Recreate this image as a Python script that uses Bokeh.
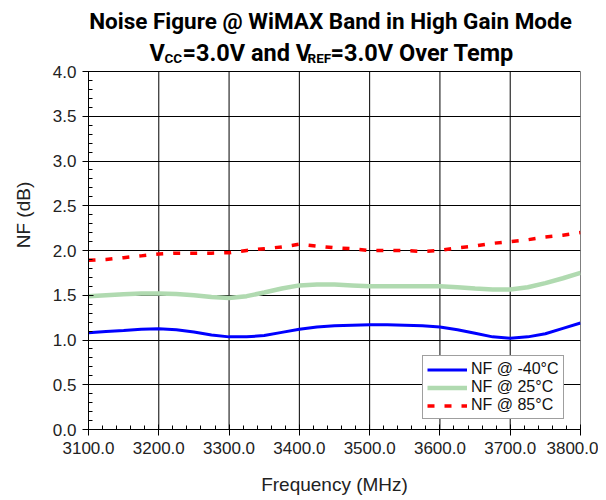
from bokeh.plotting import figure
from bokeh.models import FixedTicker, Legend, LegendItem, PrintfTickFormatter, Range1d
from bokeh.core.properties import value
from bokeh.embed import file_html
from bokeh.resources import INLINE

# ---- data ----
freq_blue = [3100, 3125, 3150, 3175, 3200, 3225, 3250, 3275, 3300, 3325, 3350, 3375, 3400, 3425,
             3450, 3475, 3500, 3525, 3550, 3575, 3600, 3625, 3650, 3675, 3700, 3725, 3750, 3775, 3800]
nf_m40 = [1.08, 1.095, 1.105, 1.12, 1.125, 1.115, 1.09, 1.055, 1.035, 1.035, 1.05, 1.085, 1.12, 1.145,
          1.16, 1.165, 1.17, 1.17, 1.165, 1.16, 1.145, 1.115, 1.075, 1.035, 1.02, 1.035, 1.07, 1.13, 1.19]

freq_green = [3100, 3125, 3150, 3175, 3200, 3225, 3250, 3275, 3300, 3325, 3350, 3375, 3400, 3425,
              3450, 3475, 3500, 3550, 3600, 3625, 3650, 3675, 3700, 3725, 3750, 3775, 3800]
nf_25 = [1.49, 1.50, 1.51, 1.52, 1.52, 1.515, 1.50, 1.48, 1.47, 1.49, 1.53, 1.575, 1.61, 1.62,
         1.62, 1.61, 1.60, 1.60, 1.60, 1.59, 1.575, 1.565, 1.565, 1.59, 1.635, 1.69, 1.75]

freq_red = [3100, 3125, 3150, 3175, 3200, 3225, 3250, 3275, 3300, 3325, 3350, 3375, 3400, 3425,
            3450, 3475, 3500, 3525, 3550, 3575, 3600, 3625, 3650, 3675, 3700, 3725, 3750, 3775, 3800]
nf_85 = [1.89, 1.90, 1.92, 1.94, 1.96, 1.97, 1.97, 1.97, 1.975, 2.00, 2.02, 2.04, 2.07, 2.05,
         2.03, 2.02, 2.00, 2.00, 2.00, 1.99, 2.00, 2.03, 2.05, 2.08, 2.10, 2.12, 2.15, 2.17, 2.20]

x_ticks = [3100, 3200, 3300, 3400, 3500, 3600, 3700, 3800]
y_ticks = [0.0, 0.5, 1.0, 1.5, 2.0, 2.5, 3.0, 3.5, 4.0]
series_labels = ["NF @ -40°C", "NF @ 25°C", "NF @ 85°C"]

title_line1 = "Noise Figure @ WiMAX Band in High Gain Mode"
title_line2 = [("V", False), ("CC", True), ("=3.0V and V", False), ("REF", True), ("=3.0V Over Temp", False)]

FONT = "Liberation Sans"
TFONT = "Roboto"

# ---- geometry (px) ----
W, H = 598, 496
FL, FW = 88, 492           # plot area left edge / width
PLOT_TOP, PLOT_BOTTOM = 71, 429
FR = W - FL - FW
FH = PLOT_BOTTOM            # drawing frame spans from the canvas top to the plot bottom
x_lo, x_hi = x_ticks[0], x_ticks[-1]
y_lo, y_hi = y_ticks[0], y_ticks[-1]
px_per_unit = (PLOT_BOTTOM - PLOT_TOP) / (y_hi - y_lo)
y_top = y_lo + FH / px_per_unit


def ypix(py):
    """page pixel row -> data y (for title placement above the plot area)"""
    return y_lo + (PLOT_BOTTOM - py) / px_per_unit


def xpix(px):
    return x_lo + (px - FL) * (x_hi - x_lo) / FW


p = figure(width=W, height=H, output_backend="svg", toolbar_location=None,
           x_range=Range1d(x_lo, x_hi), y_range=Range1d(y_lo, y_top),
           frame_width=FW, frame_height=FH,
           min_border_left=FL, min_border_top=0,
           min_border_right=FR, min_border_bottom=H - FH)
p.background_fill_color = "white"
p.border_fill_color = "white"
p.outline_line_color = None

# ---- axes ----
minor_x = [v for v in range(3100, 3801, 20) if v not in x_ticks]
minor_y = [round(i * 0.1, 1) for i in range(41) if round(i * 0.1, 1) not in y_ticks]
p.xaxis.ticker = FixedTicker(ticks=x_ticks, minor_ticks=minor_x)
p.yaxis.ticker = FixedTicker(ticks=y_ticks, minor_ticks=minor_y)
p.yaxis.bounds = (y_lo, y_hi)
p.xaxis.formatter = PrintfTickFormatter(format="%.1f")
p.yaxis.formatter = PrintfTickFormatter(format="%.1f")
for ax in (p.xaxis, p.yaxis):
    ax.axis_line_color = "black"
    ax.major_tick_line_color = "black"
    ax.minor_tick_line_color = "black"
    ax.major_tick_in = 5
    ax.major_tick_out = 6
    ax.minor_tick_in = 4
    ax.minor_tick_out = 0
    ax.major_label_text_font = FONT
    ax.major_label_text_font_size = "17px"
    ax.major_label_text_color = "#222222"
    ax.axis_label_text_font = FONT
    ax.axis_label_text_font_size = "19px"
    ax.axis_label_text_font_style = "normal"
    ax.axis_label_text_color = "#222222"
p.xaxis.axis_label = "Frequency (MHz)"
p.yaxis.axis_label = "NF (dB)"
p.xaxis.major_label_standoff = 6
p.yaxis.major_label_standoff = 6
p.xaxis.axis_label_standoff = 17
p.yaxis.axis_label_standoff = 16

# ---- grid: horizontal lines across the plot, vertical lines only up to the top tick ----
p.xgrid.visible = False
p.ygrid.ticker = FixedTicker(ticks=y_ticks)
p.ygrid.grid_line_color = "black"
p.ygrid.grid_line_width = 1
p.segment(x0=x_ticks, y0=[y_lo] * len(x_ticks), x1=x_ticks, y1=[y_hi] * len(x_ticks),
          line_color="black", line_width=1)

# ---- series ----
r1 = p.line(freq_blue, nf_m40, line_color="#0000FF", line_width=3)
r2 = p.line(freq_green, nf_25, line_color="#B0DAB0", line_width=4.5)
r3 = p.line(freq_red, nf_85, line_color="#FF0000", line_width=3.5, line_dash="7 10")

legend = Legend(items=[LegendItem(label=series_labels[0], renderers=[r1]),
                       LegendItem(label=series_labels[1], renderers=[r2]),
                       LegendItem(label=series_labels[2], renderers=[r3])],
                location=(334, 10), margin=0, padding=4, spacing=0,
                glyph_width=40, glyph_height=17, label_height=17, label_standoff=4,
                label_text_font=FONT, label_text_font_size="16px", label_text_color="#111111",
                label_text_line_height=1.05,
                border_line_color="#404040", border_line_width=1,
                background_fill_color="white", background_fill_alpha=1.0)
p.add_layout(legend, "center")

# ---- two-line title with subscripts, above the plot area ----
p.text(x=[xpix(330)], y=[ypix(20)], text=[title_line1], text_font=value(TFONT), text_font_style="bold",
       text_font_size="22.5px", text_color="black", text_align="center", text_baseline="alphabetic")
line2_px = [149, 164, 182, 307, 330]
for (txt, sub), xx in zip(title_line2, line2_px):
    p.text(x=[xpix(xx)], y=[ypix(57.5 if sub else 52)], text=[txt], text_font=value(TFONT),
           text_font_style="bold", text_font_size="13.5px" if sub else "23.5px", text_color="black",
           text_align="left", text_baseline="alphabetic")

open("out.html", "w").write(file_html(p, INLINE))
